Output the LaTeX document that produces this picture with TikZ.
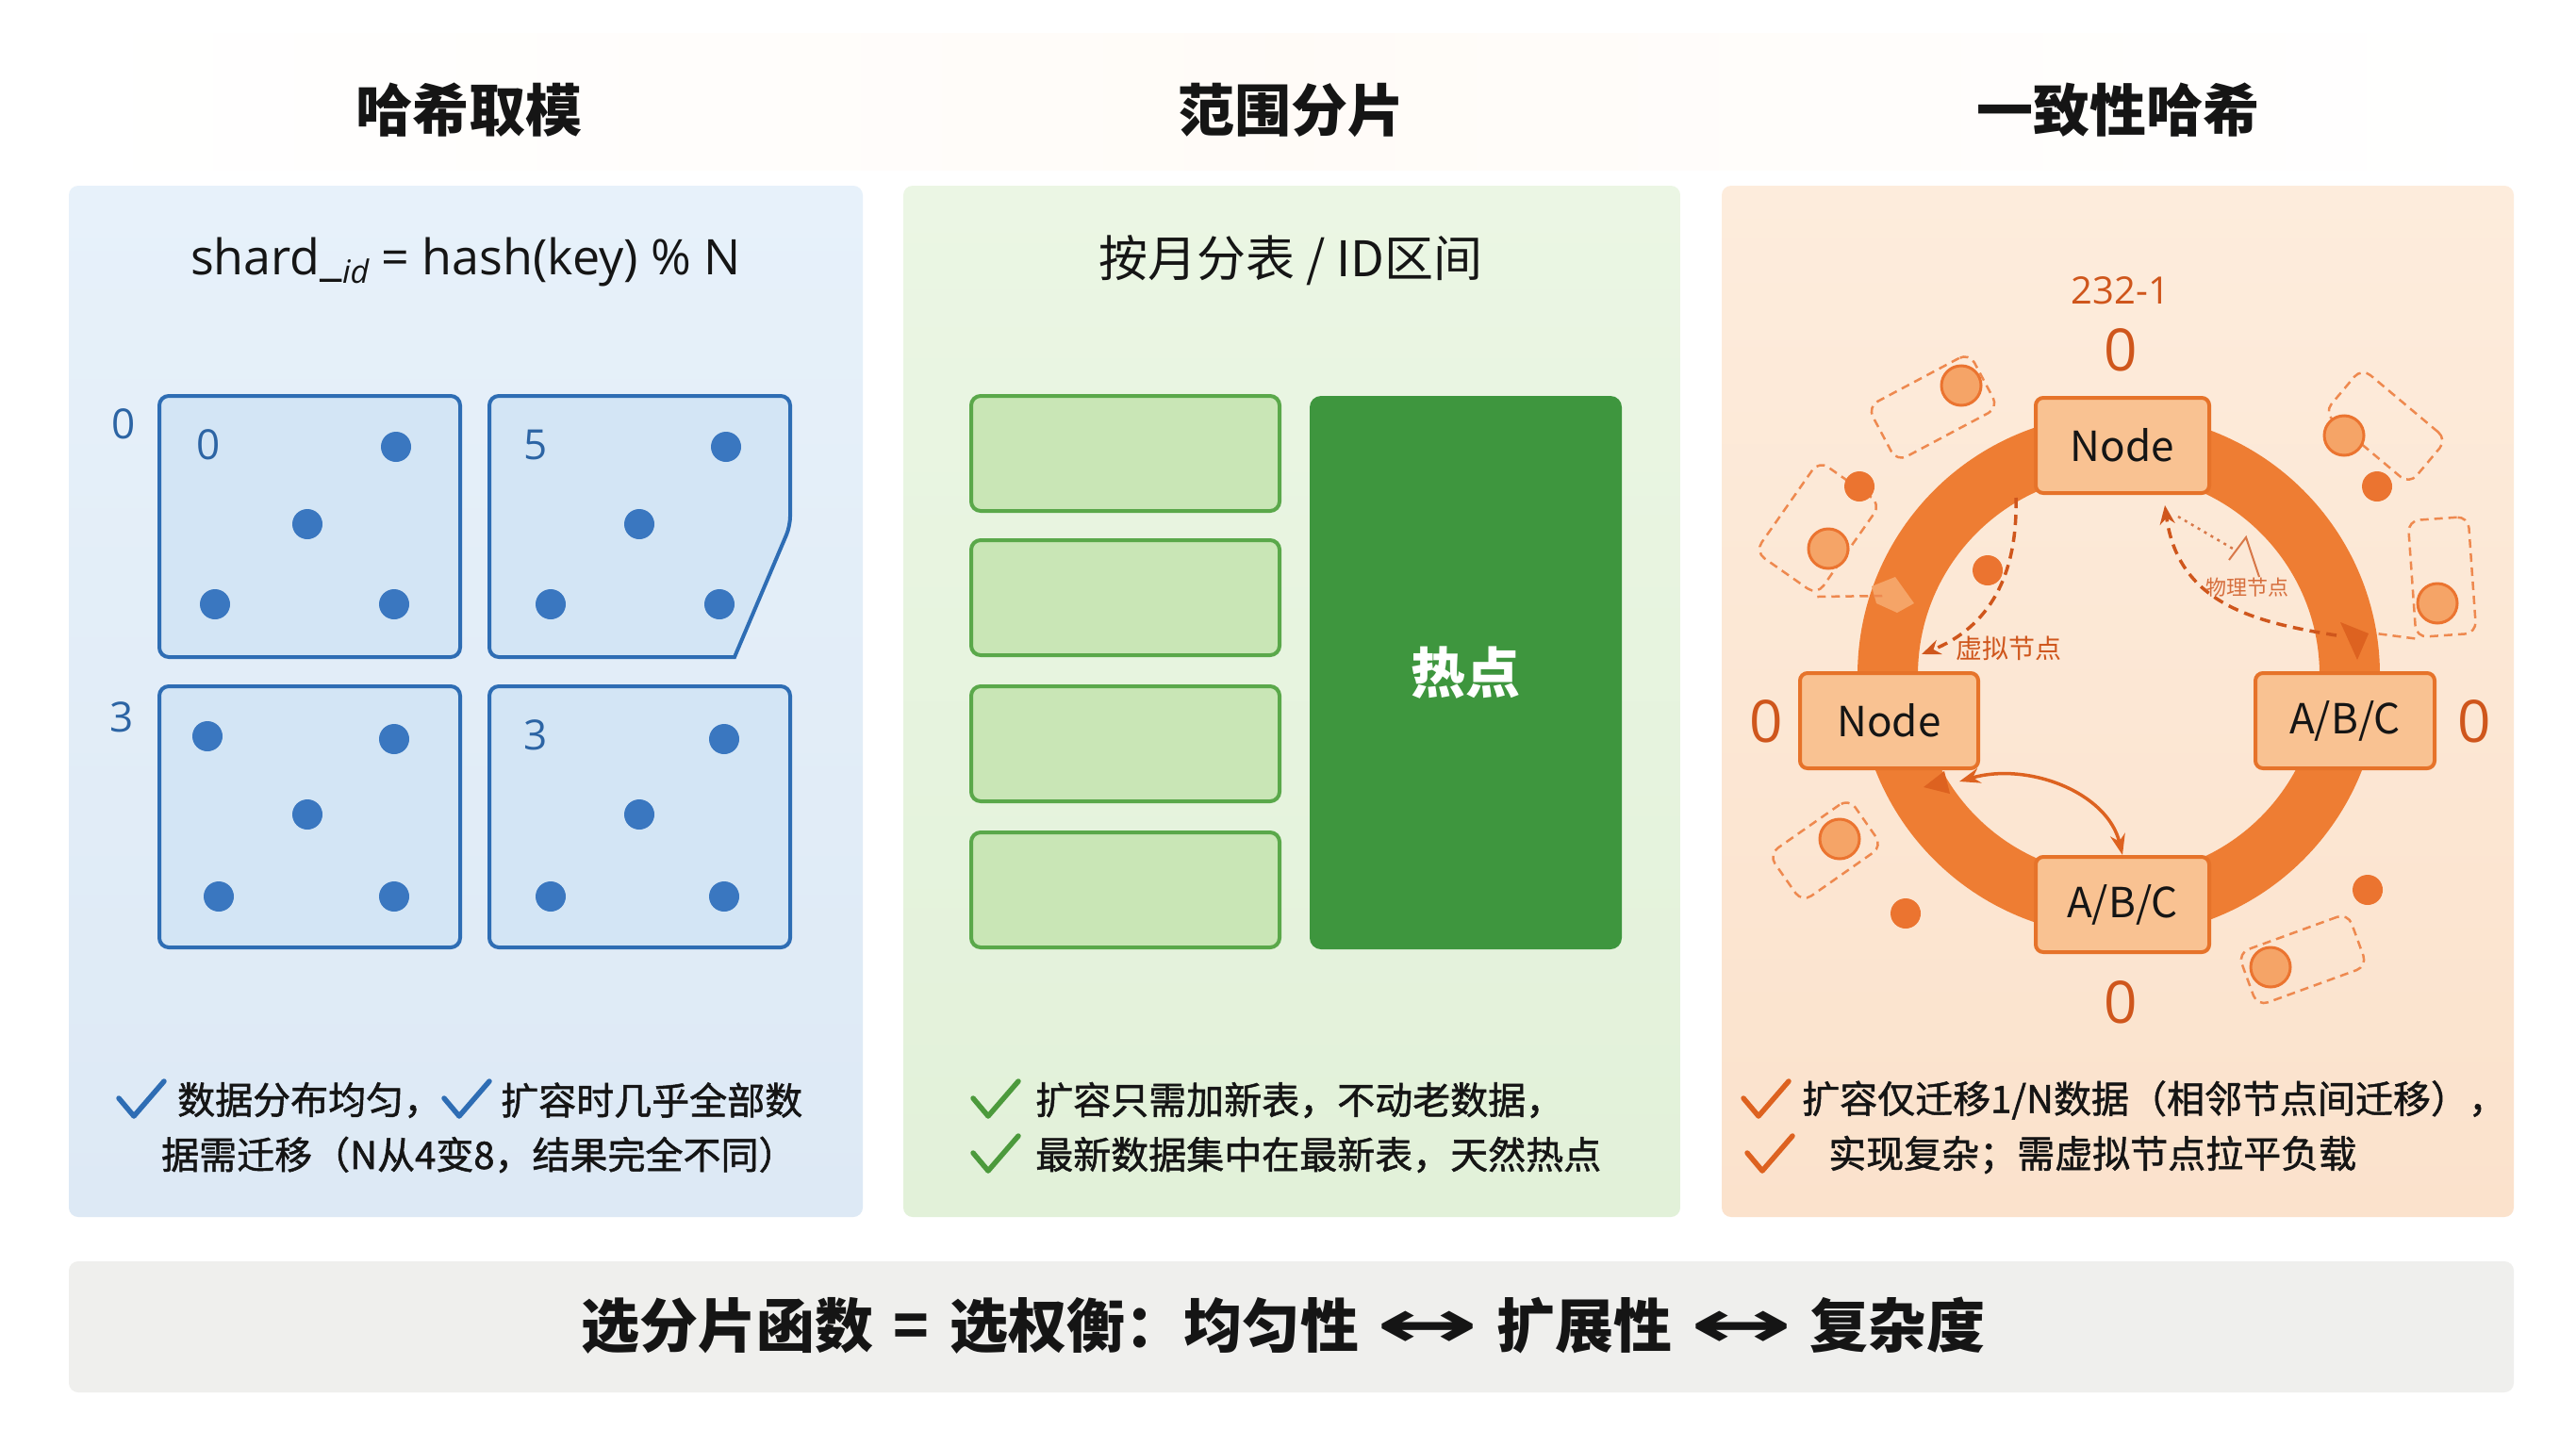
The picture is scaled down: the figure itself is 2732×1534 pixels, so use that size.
\documentclass[tikz,border=0pt]{standalone}
\usepackage{fontspec}
\setmainfont{Noto Sans CJK SC}
\newfontfamily\bodyfont{Noto Sans CJK SC}[FakeBold=1.3]
\newfontfamily\latinfont{Open Sans}
\newfontfamily\symfont{DejaVu Sans}
\usetikzlibrary{arrows.meta,calc,shapes.geometric}

\definecolor{bluebgT}{HTML}{E7F1FA}
\definecolor{bluebgB}{HTML}{DDE9F5}
\definecolor{blueline}{HTML}{2E6DB4}
\definecolor{boxblue}{HTML}{D3E5F5}
\definecolor{bluedot}{HTML}{3A77C0}
\definecolor{bluetxt}{HTML}{2C64A4}
\definecolor{greenbgT}{HTML}{EBF6E4}
\definecolor{greenbgB}{HTML}{E2F1D9}
\definecolor{greenbox}{HTML}{C9E6B6}
\definecolor{greenline}{HTML}{5AA84A}
\definecolor{greendark}{HTML}{3E963E}
\definecolor{greenchk}{HTML}{4C9A3C}
\definecolor{orbgT}{HTML}{FDECDC}
\definecolor{orbgB}{HTML}{FBE2CC}
\definecolor{ringc}{HTML}{EE7D33}
\definecolor{nodefill}{HTML}{F9C292}
\definecolor{nodeline}{HTML}{E6732A}
\definecolor{ortxt}{HTML}{CF561C}
\definecolor{ordot}{HTML}{EB7430}
\definecolor{orlight}{HTML}{F5A467}
\definecolor{ordark}{HTML}{DD6220}
\definecolor{barbg}{HTML}{EFEFED}
\definecolor{txt}{HTML}{151515}

\newcommand{\fsTitle}{\fontsize{60}{70}\selectfont\bfseries}
\newcommand{\fsSub}{\fontsize{52}{60}\selectfont}
\newcommand{\fsBody}{\bodyfont\fontsize{40}{48}\selectfont}
\newcommand{\mychk}[3]{\draw[line width=5.5pt,#3,line cap=round,line join=round] (#1-24,#2-2) -- (#1-8,#2+17) -- (#1+24,#2-20);}
\newcommand{\bigarr}{\hspace{0.3em}{\symfont\bfseries\scalebox{2.1}[1.15]{↔}}\hspace{0.3em}}

\begin{document}
\begin{tikzpicture}[x=1pt,y=-1pt,
  panel/.style={rounded corners=10pt,minimum height=1094pt,inner sep=0pt},
  sqbox/.style={draw=blueline,line width=4pt,fill=boxblue,rounded corners=10pt,minimum width=319pt,minimum height=277pt,inner sep=0pt},
  bdot/.style={fill=bluedot,circle,minimum size=32pt,inner sep=0pt},
  blab/.style={text=bluetxt,font=\latinfont\fontsize{44}{50}\selectfont},
  gbox/.style={draw=greenline,line width=4pt,fill=greenbox,rounded corners=10pt,minimum width=327pt,minimum height=122pt,inner sep=0pt},
  ringnode/.style={draw=nodeline,line width=4pt,fill=nodefill,rounded corners=8pt,minimum height=101pt,inner sep=0pt,font=\fontsize{44}{50}\selectfont,text=txt},
  zlab/.style={text=ortxt,font=\latinfont\fontsize{62}{70}\selectfont},
  odot/.style={fill=ordot,circle,minimum size=32pt,inner sep=0pt},
  vcirc/.style={fill=orlight,draw=ordot,line width=3pt,circle,minimum size=42pt,inner sep=0pt},
  vrect/.style={draw=ordot!85,dash pattern=on 9pt off 6pt,line width=2.5pt,rounded corners=12pt,inner sep=0pt},
  body/.style={anchor=west,text=txt,font=\fsBody,inner sep=0pt},
  dasharr/.style={draw=ortxt,line width=3.5pt,dash pattern=on 11pt off 7pt,-{Stealth[length=20pt,width=16pt]}}
]
\useasboundingbox (0,0) rectangle (2732,1534);
\fill[white] (0,0) rectangle (2732,1534);
\fill[left color=white,right color=white,middle color=orange!3] (55,35) rectangle (2680,180);

% titles
\node[font=\fsTitle,text=txt] (t1) at (497,117) {哈希取模};
\node[font=\fsTitle,text=txt] (t2) at (1369,117) {范围分片};
\node[font=\fsTitle,text=txt] (t3) at (2246,117) {一致性哈希};

% panels
\node[panel,top color=bluebgT,bottom color=bluebgB,minimum width=842pt] (pA) at (494,744) {};
\node[panel,top color=greenbgT,bottom color=greenbgB,minimum width=824pt] (pB) at (1370,744) {};
\node[panel,top color=orbgT,bottom color=orbgB,minimum width=840pt] (pC) at (2246,744) {};
\node[rounded corners=10pt,fill=barbg,minimum width=2593pt,minimum height=139pt,inner sep=0pt] (bar) at (1369.5,1407.5) {};

% ---------- panel A ----------
\node[font=\latinfont\fontsize{52}{60}\selectfont,text=txt] (fA) at (494,278)
  {shard\_{\fontsize{34}{34}\selectfont\itshape\raisebox{-9pt}{id}} = hash(key) \% N};
\node[sqbox] (b1) at (328.5,558.5) {};
\filldraw[draw=blueline,line width=4pt,fill=boxblue,rounded corners=10pt]
  (519,420) -- (838,420) -- (838,558) [sharp corners]-- (779,697) [rounded corners=10pt] -- (519,697) -- cycle;
\coordinate (b2) at (678.5,558.5);
\node[sqbox] (b3) at (328.5,866.5) {};
\node[sqbox] (b4) at (678.5,866.5) {};
\node[blab] (l0) at (131,450) {0};
\node[blab] (l3) at (129,761) {3};
\node[blab] (i0) at (221,472) {0};
\node[blab] (i5) at (568,472) {5};
\node[blab] (i3) at (568,780) {3};
\foreach \p [count=\i] in {(420,474),(326,556),(228,641),(418,641),
                           (770,474),(678,556),(584,641),(763,641),
                           (220,781),(418,784),(326,864),(232,951),(418,951),
                           (768,784),(678,864),(584,951),(768,951)}
  \node[bdot] (d\i) at \p {};
\mychk{150}{1167}{blueline}
\node[body] (a1) at (188,1167) {数据分布均匀，};
\mychk{495}{1167}{blueline}
\node[body] (a2) at (531,1167) {扩容时几乎全部数};
\node[body] (a3) at (171,1225) {据需迁移（N从4变8，结果完全不同）};

% ---------- panel B ----------
\node[font=\fsSub,text=txt] (fB) at (1369,276) {按月分表 / ID区间};
\node[gbox] (g1) at (1193.5,481) {};
\node[gbox] (g2) at (1193.5,634) {};
\node[gbox] (g3) at (1193.5,789) {};
\node[gbox] (g4) at (1193.5,944) {};
\node[fill=greendark,rounded corners=12pt,minimum width=331pt,minimum height=587pt,inner sep=0pt,
      text=white,font=\fontsize{58}{64}\selectfont\bfseries] (hot) at (1554.5,713.5) {热点};
\mychk{1056}{1167}{greenchk}
\node[body] (g5) at (1098,1167) {扩容只需加新表，不动老数据，};
\mychk{1056}{1225}{greenchk}
\node[body] (g6) at (1098,1225) {最新数据集中在最新表，天然热点};

% ---------- panel C ----------
\coordinate (rc) at (2247,716);
\draw[ringc,line width=64pt] (rc) circle (245);
% ring flow marks
\fill[orlight] (1985,622) -- (2010,612) -- (2030,640) -- (2012,650) -- (1990,640) -- cycle;
\fill[ordark] (2482,660) -- (2512,672) -- (2500,700) -- cycle;
\fill[ordark] (2040,835) -- (2062,818) -- (2068,842) -- cycle;

% decorations
\node[vrect,minimum width=122pt,minimum height=66pt,rotate=28] (v1) at (2050,432) {};
\node[vcirc] (c1) at (2080,409) {};
\node[vrect,minimum width=80pt,minimum height=118pt,rotate=-35] (v2) at (1928,560) {};
\node[vcirc] (c2) at (1939,582) {};
\coordinate (v2t) at (1998,632);
\draw[ordot!85,dash pattern=on 9pt off 6pt,line width=2.5pt] (v2.south east) -- (v2t);
\node[odot] (o2) at (1972,516) {};
\node[vrect,minimum width=118pt,minimum height=62pt,rotate=-40] (v3) at (2530,452) {};
\node[vcirc] (c3) at (2486,462) {};
\node[odot] (o3) at (2521,516) {};
\node[vrect,minimum width=64pt,minimum height=124pt,rotate=4] (v4) at (2590,612) {};
\node[vcirc] (c4) at (2585,640) {};
\coordinate (v4t) at (2520,672);
\draw[ordot!85,dash pattern=on 9pt off 6pt,line width=2.5pt] (v4.south west) -- (v4t);
\node[vrect,minimum width=104pt,minimum height=62pt,rotate=35] (v5) at (1936,902) {};
\node[vcirc] (c5) at (1951,890) {};
\node[odot] (o5) at (2021,969) {};
\node[vrect,minimum width=124pt,minimum height=60pt,rotate=20] (v6) at (2442,1018) {};
\node[vcirc] (c6) at (2408,1026) {};
\node[odot] (o6) at (2511,944) {};
\node[odot] (o7) at (2108,605) {};

% ring nodes
\node[ringnode,minimum width=184pt] (tn) at (2251,472.5) {Node};
\node[ringnode,minimum width=189pt] (ln) at (2003.5,764.5) {Node};
\node[ringnode,minimum width=190pt] (rn) at (2487,764.5) {A/B/C};
\node[ringnode,minimum width=184pt] (bn) at (2251,959.5) {A/B/C};

\node[text=ortxt,font=\latinfont\fontsize{40}{46}\selectfont] (top) at (2249,308) {232-1};
\node[zlab] (z1) at (2249,371) {0};
\node[zlab] (z2) at (1873,765) {0};
\node[zlab] (z3) at (2624,765) {0};
\node[zlab] (z4) at (2249,1063) {0};

% virtual node arrow
\coordinate (vs) at (2138,528);
\coordinate (ve) at (2038,694);
\draw[dasharr] (vs) .. controls (2140,610) and (2110,665) .. (ve);
\node[text=ortxt,font=\fontsize{28}{32}\selectfont] (vlab) at (2130,688) {虚拟节点};

% physical node arrow
\coordinate (ps) at (2478,674);
\coordinate (pe) at (2296,536);
\draw[dasharr] (ps) .. controls (2390,660) and (2310,640) .. (pe);
\coordinate (pm) at (2368,582);
\draw[ortxt!80,line width=2.5pt,dash pattern=on 3pt off 5pt] (pe) ++(14,12) -- (pm);
\draw[ortxt!80,line width=2pt] (2364,594) -- (2382,570) -- (2396,612);
\node[text=ortxt!85,font=\fontsize{22}{26}\selectfont] (plab) at (2383,623) {物理节点};

% double arrow
\draw[ordark,line width=3.5pt,{Stealth[length=22pt,width=16pt]}-{Stealth[length=22pt,width=16pt]}]
  ($(ln.south east)+(-22,12)$) .. controls (2150,808) and (2235,840) .. (bn.north);

\mychk{1873}{1167}{ordark}
\node[body] (o8) at (1911,1167) {扩容仅迁移1/N数据（相邻节点间迁移），};
\mychk{1877}{1225}{ordark}
\node[body] (o9) at (1939,1225) {实现复杂；需虚拟节点拉平负载};

% bottom bar text
\node[text=txt,font=\fontsize{62}{70}\selectfont\bfseries] (btxt) at (1361,1406)
  {选分片函数\hspace{0.35em}=\hspace{0.35em}选权衡：均匀性\bigarr 扩展性\bigarr 复杂度};
\end{tikzpicture}
\end{document}
